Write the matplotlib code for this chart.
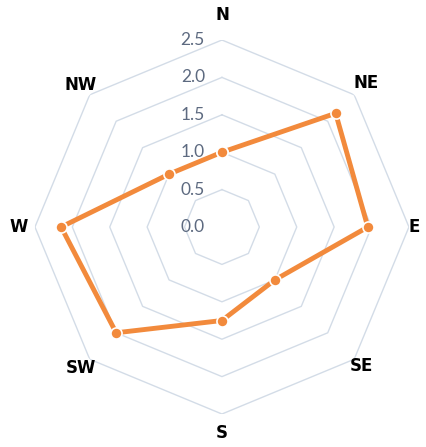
import numpy as np
import matplotlib.pyplot as plt
from matplotlib.transforms import ScaledTranslation

# -- data
directions = ['N', 'NE', 'E', 'SE', 'S', 'SW', 'W', 'NW']
values = [1.0, 2.15, 1.95, 1.0, 1.25, 2.0, 2.15, 1.0]
rings = [0.5, 1.0, 1.5, 2.0, 2.5]
ring_labels = ['0.0', '0.5', '1.0', '1.5', '2.0', '2.5']

# label distance from centre, per direction
label_r = [2.84, 2.73, 2.57, 2.63, 2.75, 2.67, 2.72, 2.68]

orange = '#f28a3c'
gridc = '#d3dce7'
tickc = '#5d6a80'

fig = plt.figure(figsize=(4.26, 4.47), dpi=100)
ax = fig.add_axes([0.082, 0.0738, 0.878, 0.8367], projection='polar')
ax.set_theta_zero_location('N')
ax.set_theta_direction(-1)
ax.set_ylim(0, 2.5)
ax.grid(False)
ax.set_xticks([])
ax.set_yticks([])
ax.spines['polar'].set_visible(False)
ax.patch.set_alpha(0)

theta = np.linspace(0, 2 * np.pi, len(directions), endpoint=False)
theta_c = np.append(theta, theta[0])

# -- octagon grid
for r in rings:
    ax.plot(theta_c, [r] * len(theta_c), color=gridc, lw=1, zorder=1)

# -- series
vals = np.append(values, values[0])
ax.plot(theta_c, vals, color=orange, lw=3.5, zorder=3,
        marker='o', ms=8, mfc=orange, mec='white', mew=1.2)

# -- radial tick labels, a bit left of the vertical axis
shift = ax.transData + ScaledTranslation(-0.17, 0.0, fig.dpi_scale_trans)
for i, lab in enumerate(ring_labels):
    ax.text(0, i * 0.5, lab, transform=shift, ha='right', va='center',
            fontsize=12.5, color=tickc, family='Lato', zorder=2)

# -- direction labels
for ang, lab, r in zip(theta, directions, label_r):
    ax.text(ang, r, lab, ha='center', va='center', fontsize=12,
            fontweight='bold', color='black', family='DejaVu Sans')

fig.savefig('out.png', dpi=100)
